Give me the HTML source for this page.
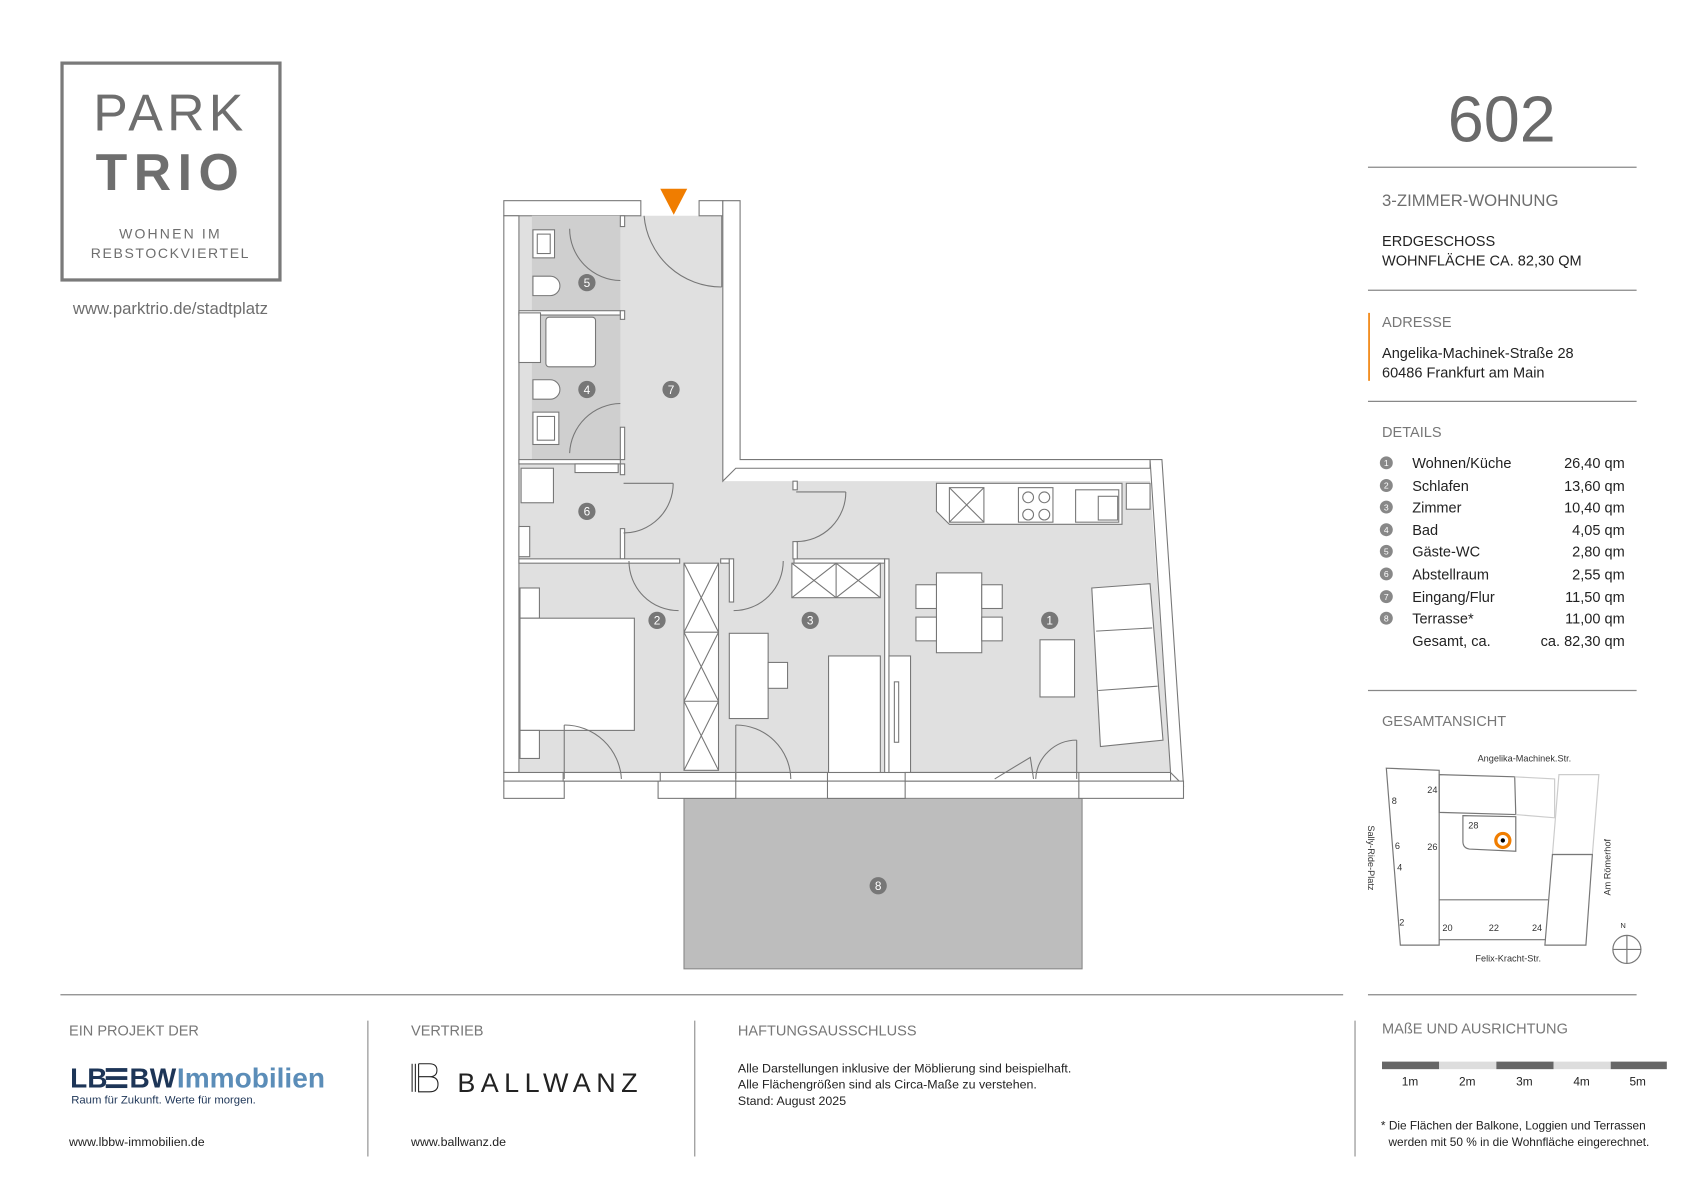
<!DOCTYPE html>
<html><head><meta charset="utf-8"><style>
html,body{margin:0;padding:0;background:#fff}
svg{display:block}
text{font-family:"Liberation Sans",sans-serif}
</style></head><body>
<svg width="1683" height="1190" viewBox="0 0 1560 1103" preserveAspectRatio="none" xmlns="http://www.w3.org/2000/svg">
<!-- Logo -->
<rect x="57.5" y="58.5" width="202" height="201" fill="none" stroke="#7a7a7a" stroke-width="3"/>
<text x="158" y="121" font-size="48" fill="#6e6e6e" text-anchor="middle" letter-spacing="4" font-weight="300">PARK</text>
<text x="158" y="176" font-size="48" fill="#6e6e6e" text-anchor="middle" letter-spacing="6" font-weight="bold">TRIO</text>
<text x="158" y="221" font-size="13" fill="#6e6e6e" text-anchor="middle" letter-spacing="2">WOHNEN IM</text>
<text x="158" y="239" font-size="13" fill="#6e6e6e" text-anchor="middle" letter-spacing="1.5">REBSTOCKVIERTEL</text>
<text x="158" y="291" font-size="15.5" fill="#6e6e6e" text-anchor="middle">www.parktrio.de/stadtplatz</text>

<!-- Sidebar -->
<text x="1392" y="131" font-size="60" fill="#6a6a6a" text-anchor="middle">602</text>
<line x1="1268" y1="155" x2="1517" y2="155" stroke="#888" stroke-width="1.2"/>
<text x="1281" y="191" font-size="15.5" fill="#6e6e6e">3-ZIMMER-WOHNUNG</text>
<text x="1281" y="228" font-size="13.5" fill="#222">ERDGESCHOSS</text>
<text x="1281" y="246" font-size="13.5" fill="#222">WOHNFLÄCHE CA. 82,30 QM</text>
<line x1="1268" y1="269" x2="1517" y2="269" stroke="#888" stroke-width="1.2"/>
<line x1="1269" y1="290" x2="1269" y2="353" stroke="#f07d00" stroke-width="1.5"/>
<text x="1281" y="303" font-size="13.5" fill="#777">ADRESSE</text>
<text x="1281" y="332" font-size="13.5" fill="#222">Angelika-Machinek-Straße 28</text>
<text x="1281" y="350" font-size="13.5" fill="#222">60486 Frankfurt am Main</text>
<line x1="1268" y1="372" x2="1517" y2="372" stroke="#888" stroke-width="1.2"/>
<text x="1281" y="405" font-size="13.5" fill="#777">DETAILS</text>
<g font-size="13.5" fill="#222">
<g fill="#888"><circle cx="1285" cy="429" r="6"/><circle cx="1285" cy="450" r="6"/><circle cx="1285" cy="470" r="6"/><circle cx="1285" cy="491" r="6"/><circle cx="1285" cy="511" r="6"/><circle cx="1285" cy="532" r="6"/><circle cx="1285" cy="553" r="6"/><circle cx="1285" cy="573" r="6"/></g>
<g font-size="8" fill="#fff" text-anchor="middle"><text x="1285" y="432">1</text><text x="1285" y="453">2</text><text x="1285" y="473">3</text><text x="1285" y="494">4</text><text x="1285" y="514">5</text><text x="1285" y="535">6</text><text x="1285" y="556">7</text><text x="1285" y="576">8</text></g>
<text x="1309" y="434">Wohnen/Küche</text><text x="1309" y="455">Schlafen</text><text x="1309" y="475">Zimmer</text><text x="1309" y="496">Bad</text><text x="1309" y="516">Gäste-WC</text><text x="1309" y="537">Abstellraum</text><text x="1309" y="558">Eingang/Flur</text><text x="1309" y="578">Terrasse*</text><text x="1309" y="599">Gesamt, ca.</text>
<g text-anchor="end"><text x="1506" y="434">26,40 qm</text><text x="1506" y="455">13,60 qm</text><text x="1506" y="475">10,40 qm</text><text x="1506" y="496">4,05 qm</text><text x="1506" y="516">2,80 qm</text><text x="1506" y="537">2,55 qm</text><text x="1506" y="558">11,50 qm</text><text x="1506" y="578">11,00 qm</text><text x="1506" y="599">ca. 82,30 qm</text></g>
</g>
<line x1="1268" y1="640" x2="1517" y2="640" stroke="#888" stroke-width="1.2"/>
<text x="1281" y="673" font-size="13.5" fill="#777">GESAMTANSICHT</text>

<!-- site plan -->
<g fill="none" stroke="#777" stroke-width="1.1">
<polygon points="1285,712 1334,714 1334,876 1298,876"/>
<polygon points="1334,718 1404,720 1405,755 1334,753"/>
<polyline points="1404,720 1441,722 1441,758 1405,755" stroke="#ccc"/>
<polygon points="1445,718 1482,718 1476,792 1439,792" stroke="#ccc"/>
<path d="M1356,756 L1405,757 L1405,789 L1362,787 Q1356,786 1356,780 Z"/>
<polygon points="1439,792 1476,792 1470,876 1432,876"/>
<polyline points="1334,834 1435,834"/>
<polyline points="1334,871 1433,871"/>
<circle cx="1508" cy="880" r="13"/>
<line x1="1495" y1="880" x2="1521" y2="880"/><line x1="1508" y1="867" x2="1508" y2="893"/>
</g>
<circle cx="1393" cy="779" r="6.5" fill="none" stroke="#f07d00" stroke-width="3"/>
<circle cx="1393" cy="779" r="2" fill="#000"/>
<g font-size="8.5" fill="#333">
<text x="1413" y="706" text-anchor="middle">Angelika-Machinek.Str.</text>
<text x="1398" y="891" text-anchor="middle">Felix-Kracht-Str.</text>
<text x="1323" y="735">24</text><text x="1290" y="745">8</text><text x="1361" y="768">28</text>
<text x="1293" y="787">6</text><text x="1323" y="788">26</text><text x="1295" y="807">4</text>
<text x="1297" y="858">2</text><text x="1337" y="863">20</text><text x="1380" y="863">22</text><text x="1420" y="863">24</text>
<text x="1502" y="860" font-size="7">N</text>
<text transform="translate(1268,765) rotate(90)">Sally-Ride-Platz</text>
<text transform="translate(1493,830) rotate(-90)">Am Römerhof</text>
</g>

<!-- Footer -->
<line x1="56" y1="922" x2="1245" y2="922" stroke="#888" stroke-width="1.2"/>
<line x1="1268" y1="922" x2="1517" y2="922" stroke="#888" stroke-width="1.2"/>
<line x1="341" y1="946" x2="341" y2="1072" stroke="#888"/>
<line x1="644" y1="946" x2="644" y2="1072" stroke="#888"/>
<line x1="1256" y1="946" x2="1256" y2="1072" stroke="#888"/>
<g font-size="13.5" fill="#777"><text x="64" y="960">EIN PROJEKT DER</text><text x="381" y="960">VERTRIEB</text><text x="684" y="960">HAFTUNGSAUSSCHLUSS</text><text x="1281" y="958">MAßE UND AUSRICHTUNG</text></g>
<text x="65" y="1008" font-size="26" font-weight="bold" fill="#1d3557">LB</text>
<g fill="#1d3557"><rect x="98" y="990" width="20" height="3.5"/><rect x="98" y="997.5" width="20" height="3.5"/><rect x="98" y="1005" width="20" height="3.5"/></g>
<text x="120" y="1008" font-size="26" font-weight="bold" fill="#1d3557">BW</text>
<text x="164" y="1008" font-size="26" font-weight="bold" fill="#5b8db8">Immobilien</text>
<text x="66" y="1023" font-size="10.5" fill="#1d3557">Raum für Zukunft. Werte für morgen.</text>
<g font-size="11.5" fill="#222"><text x="64" y="1062">www.lbbw-immobilien.de</text><text x="381" y="1062">www.ballwanz.de</text></g>
<g stroke="#222" stroke-width="1"><line x1="382" y1="986" x2="382" y2="1012"/><line x1="385" y1="986" x2="385" y2="1012"/></g>
<path d="M388,986 L398,986 Q405,986 405,992 Q405,998 398,998 L388,998 M398,998 Q406,998 406,1005 Q406,1012 398,1012 L388,1012 L388,986" fill="none" stroke="#222"/>
<text x="424" y="1012" font-size="25" fill="#222" letter-spacing="5" font-family="Liberation Serif,serif">BALLWANZ</text>
<g font-size="11.5" fill="#222"><text x="684" y="994">Alle Darstellungen inklusive der Möblierung sind beispielhaft.</text><text x="684" y="1009">Alle Flächengrößen sind als Circa-Maße zu verstehen.</text><text x="684" y="1024">Stand: August 2025</text></g>
<g><rect x="1281" y="984" width="53" height="7" fill="#666"/><rect x="1334" y="984" width="53" height="7" fill="#ddd"/><rect x="1387" y="984" width="53" height="7" fill="#666"/><rect x="1440" y="984" width="53" height="7" fill="#ddd"/><rect x="1493" y="984" width="52" height="7" fill="#666"/></g>
<g font-size="11" fill="#222" text-anchor="middle"><text x="1307" y="1006">1m</text><text x="1360" y="1006">2m</text><text x="1413" y="1006">3m</text><text x="1466" y="1006">4m</text><text x="1518" y="1006">5m</text></g>
<g font-size="11" fill="#222"><text x="1280" y="1047">* Die Flächen der Balkone, Loggien und Terrassen</text><text x="1287" y="1062">werden mit 50 % in die Wohnfläche eingerechnet.</text></g>

<!-- Floor plan -->
<rect x="634" y="740" width="369" height="158" fill="#bdbdbd" stroke="#888"/>
<polygon points="481,200 670,200 670,446 1066,446 1085,716 481,716" fill="#e0e0e0"/>
<g fill="#fff" stroke="#777" stroke-width="1">
<!-- outer walls -->
<rect x="467" y="186" width="127" height="14"/>
<rect x="648" y="186" width="22" height="14"/>
<rect x="467" y="200" width="14" height="516"/>
<polygon points="670,186 686,186 686,426 1066,426 1066,434 682,434 670,446"/>
<polygon points="1066,426 1077,426 1097,728 1085,716"/>
<rect x="467" y="716" width="618" height="8"/>
<rect x="467" y="724" width="56" height="16"/><rect x="610" y="724" width="72" height="16"/><rect x="767" y="724" width="72" height="16"/><rect x="1000" y="724" width="97" height="16"/>
</g>
<!-- bathroom tiles -->
<rect x="493" y="200" width="82" height="88" fill="#cfcfcf"/>
<rect x="493" y="292" width="82" height="134" fill="#cfcfcf"/>
<g fill="#fff" stroke="#777">
<rect x="481" y="288" width="94" height="4"/><rect x="481" y="426" width="94" height="4"/>
<rect x="575" y="200" width="4" height="10"/><rect x="575" y="288" width="4" height="8"/>
<rect x="575" y="396" width="4" height="30"/><rect x="575" y="430" width="4" height="10"/>
<rect x="575" y="490" width="4" height="28"/>
<rect x="481" y="518" width="149" height="4"/><rect x="668" y="518" width="8" height="4"/>
<rect x="676" y="518" width="4" height="40"/><rect x="736" y="518" width="84" height="4"/><rect x="820" y="518" width="4" height="198"/>
<rect x="735" y="446" width="4" height="8"/><rect x="735" y="502" width="4" height="16"/>
<rect x="481" y="290" width="20" height="46"/><rect x="506" y="294" width="46" height="46" rx="3"/>
<rect x="494" y="213" width="20" height="26"/><rect x="498" y="217" width="12" height="18"/>
<path d="M494,256 h16 a9,9 0 0 1 0,18 h-16z"/><path d="M494,352 h16 a9,9 0 0 1 0,18 h-16z"/>
<rect x="494" y="382" width="24" height="30"/><rect x="498" y="386" width="16" height="22"/>
<rect x="483" y="434" width="30" height="32"/>
<rect x="533" y="430" width="40" height="8"/>
<rect x="481" y="488" width="10" height="28"/>
<rect x="634" y="522" width="32" height="192"/>
<rect x="734" y="522" width="82" height="32"/>
<rect x="482" y="545" width="18" height="28"/><rect x="482" y="573" width="106" height="104"/><rect x="482" y="677" width="18" height="26"/>
<rect x="676" y="587" width="36" height="79"/><rect x="712" y="614" width="18" height="24"/>
<rect x="768" y="608" width="48" height="108"/><rect x="824" y="608" width="20" height="108"/><rect x="829" y="632" width="4" height="56"/>
<rect x="868" y="531" width="42" height="74"/><rect x="849" y="542" width="19" height="22"/><rect x="849" y="572" width="19" height="22"/><rect x="910" y="542" width="19" height="22"/><rect x="910" y="572" width="19" height="22"/>
<rect x="964" y="593" width="32" height="53"/>
<polygon points="1012,545 1066,541 1078,686 1020,692"/>
<polygon points="868,448 1040,448 1040,486 880,486 868,474"/>
<rect x="880" y="452" width="32" height="32"/><rect x="944" y="452" width="32" height="32"/><rect x="997" y="454" width="40" height="30"/><rect x="1018" y="460" width="18" height="22"/>
<rect x="1044" y="448" width="22" height="24"/>
<rect x="522" y="716" width="90" height="8"/><rect x="682" y="716" width="85" height="8"/><rect x="839" y="716" width="161" height="8"/>
</g>
<g stroke="#777" fill="none" stroke-width="1">
<line x1="634" y1="586" x2="666" y2="586"/><line x1="634" y1="650" x2="666" y2="650"/>
<path d="M634,522 L666,586 M666,522 L634,586 M634,586 L666,650 M666,586 L634,650 M634,650 L666,714 M666,650 L634,714"/>
<path d="M734,522 L775,554 M775,522 L734,554 M775,522 L816,554 M816,522 L775,554 M775,522 V554"/>
<path d="M880,452 L912,484 M912,452 L880,484"/>
<circle cx="953" cy="461" r="5"/><circle cx="968" cy="461" r="5"/><circle cx="953" cy="477" r="5"/><circle cx="968" cy="477" r="5"/>
<line x1="1016" y1="585" x2="1068" y2="582"/><line x1="1018" y1="640" x2="1073" y2="636"/>
<!-- doors -->
<path d="M669,266 A72,72 0 0 1 597,200"/><line x1="669" y1="200" x2="669" y2="266"/>
<path d="M575,260 A48,48 0 0 1 528,212"/>
<path d="M528,420 A48,48 0 0 1 575,374"/>
<path d="M578,494 A46,46 0 0 0 624,448"/><line x1="578" y1="448" x2="624" y2="448"/>
<path d="M738,502 A46,46 0 0 0 784,456"/><line x1="738" y1="456" x2="784" y2="456"/>
<path d="M583,520 A46,46 0 0 0 629,566"/>
<path d="M680,566 A46,46 0 0 0 726,520"/>
<path d="M523,672 A53,53 0 0 1 576,722"/><line x1="523" y1="672" x2="523" y2="722"/>
<path d="M682,672 A51,51 0 0 1 733,722"/><line x1="682" y1="672" x2="682" y2="722"/>
<path d="M960,722 A38,38 0 0 1 998,686"/><line x1="998" y1="686" x2="998" y2="722"/>
<path d="M922,722 L955,702 L958,722"/>
</g>
<polygon points="612,175 637,175 624.5,199" fill="#f07d00"/>
<!-- room numbers -->
<g fill="#777"><circle cx="544" cy="262" r="8"/><circle cx="544" cy="361" r="8"/><circle cx="622" cy="361" r="8"/><circle cx="544" cy="474" r="8"/><circle cx="609" cy="575" r="8"/><circle cx="751" cy="575" r="8"/><circle cx="973" cy="575" r="8"/><circle cx="814" cy="821" r="8"/></g>
<g fill="#fff" font-size="11" text-anchor="middle"><text x="544" y="266">5</text><text x="544" y="365">4</text><text x="622" y="365">7</text><text x="544" y="478">6</text><text x="609" y="579">2</text><text x="751" y="579">3</text><text x="973" y="579">1</text><text x="814" y="825">8</text></g>
</svg>
</body></html>
